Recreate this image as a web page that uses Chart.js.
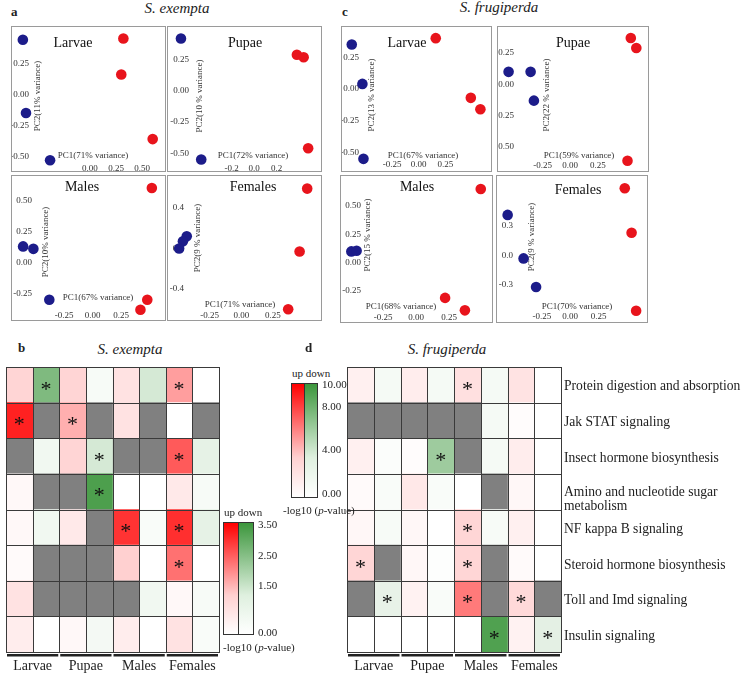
<!DOCTYPE html>
<html>
<head>
<meta charset="utf-8">
<script src="https://cdn.jsdelivr.net/npm/chart.js@4"></script>
<style>
body { margin: 0; background: #fff; }
#fig { position: relative; width: 749px; height: 678px; font-family: "Liberation Serif", "Times New Roman", serif; color: #222; }
.box { position: absolute; border: 1px solid #9a9a9a; box-sizing: border-box; }
.box canvas { position: absolute; left: 0; top: 0; }
.txt { position: absolute; white-space: nowrap; line-height: 1; }
.bar { position: absolute; border: 1px solid #333; box-sizing: border-box; }
canvas.heat { position: absolute; }
</style>
</head>
<body>
<div id="fig"></div>
<script>
// PCA sample coordinates [PC1, PC2], blue = control, red = treated
const exLarvaeBlue = [[-0.64, 0.44], [-0.61, -0.15], [-0.38, -0.53]];
const exLarvaeRed = [[0.32, 0.45], [0.30, 0.16], [0.60, -0.36]];
const exPupaeBlue = [[-0.65, 0.42], [-0.47, -0.55]];
const exPupaeRed = [[0.38, 0.29], [0.44, 0.27], [0.48, -0.46]];
const exMalesBlue = [[-0.61, 0.13], [-0.52, 0.11], [-0.38, -0.30]];
const exMalesRed = [[0.52, 0.60], [0.48, -0.30], [0.42, -0.38]];
const exFemalesBlue = [[-0.43, 0.12], [-0.46, 0.07], [-0.49, 0.00]];
const exFemalesRed = [[0.52, 0.59], [0.46, -0.03], [0.37, -0.60]];

const frLarvaeBlue = [[-0.63, 0.35], [-0.53, 0.04], [-0.52, -0.55]];
const frLarvaeRed = [[0.16, 0.40], [0.49, -0.07], [0.58, -0.16]];
const frPupaeBlue = [[-0.56, 0.10], [-0.36, 0.10], [-0.33, -0.13]];
const frPupaeRed = [[0.55, 0.37], [0.60, 0.29], [0.52, -0.61]];
const frMalesBlue = [[-0.49, 0.10], [-0.45, 0.105]];
const frMalesRed = [[0.49, 0.65], [0.22, -0.31], [0.37, -0.42]];
const frFemalesBlue = [[-0.55, 0.41], [-0.41, -0.03], [-0.30, -0.32]];
const frFemalesRed = [[0.48, 0.68], [0.54, 0.23], [0.58, -0.56]];

const stages = ['Larvae', 'Pupae', 'Males', 'Females'];
const exPC1 = ['71%', '72%', '67%', '71%'];
const exPC2 = ['11%', '10 %', '10%', '9 %'];
const frPC1 = ['67%', '59%', '68%', '70%'];
const frPC2 = ['13 %', '22 %', '15 %', '9 %'];

// tick labels
const ticksPos = ['0.00', '0.25', '0.50'];
const ticksQ = ['-0.25', '0.00', '0.25'];
const ticksP2 = ['-0.2', '0.0', '0.2'];
const ticksYlow = ['0.25', '0.00', '-0.25', '-0.50'];
const ticksYhigh = ['0.50', '0.25', '0.00', '-0.25'];
const ticksY4 = ['0.4', '0.0', '-0.4'];
const ticksY3 = ['0.3', '0.0', '-0.3'];

// heatmaps: -log10(p), positive = up (red), negative = down (green), null = no data
const pathways = ['Protein digestion and absorption', 'Jak STAT signaling', 'Insect hormone biosynthesis',
  ['Amino and nucleotide sugar', 'metabolism'], 'NF kappa B signaling', 'Steroid hormone biosynthesis',
  'Toll and Imd signaling', 'Insulin signaling'];
const columns = ['Larvae 1', 'Larvae 2', 'Pupae 1', 'Pupae 2', 'Males 1', 'Males 2', 'Females 1', 'Females 2'];

const exemptaLogP = [
  [0.57, -2.3, 0.57, -0.14, 0.4, -0.75, 1.33, 0],
  [3.05, null, 1.1, null, 0.4, null, 0, null],
  [null, -0.25, 0.57, -0.75, null, null, 2.27, -0.45],
  [0.1, null, null, -3.2, 0, 0, 0.3, -0.14],
  [0.1, -0.25, 0.3, null, 2.8, -0.1, 2.85, -0.45],
  [0.07, null, null, null, 0.65, 0, 1.95, 0],
  [0.4, null, null, null, null, -0.25, 0.1, -0.14],
  [0.25, 0, 0.1, -0.2, 0.25, 0, 0.4, -0.1]
];
const exemptaStars = [[0, 1], [0, 6], [1, 0], [1, 2], [2, 3], [2, 6], [3, 3], [4, 4], [4, 6], [5, 6]];

const frugiperdaLogP = [
  [0.6, -0.5, 0.7, -0.5, 1.2, -0.5, 1.1, 0],
  [null, null, null, null, null, -0.5, 0.1, 0],
  [0.6, -0.2, 0.1, -5, null, -0.5, 0.7, 0],
  [0.2, -0.3, 0.9, -0.3, 0, null, 0.3, 0],
  [0.3, -0.4, 0.3, 0, 1.6, -0.4, 0.6, 0],
  [1.6, null, 0.3, -0.1, 1.6, null, 0.2, 0],
  [null, -1.2, 0.5, -0.3, 5.2, null, 1.5, null],
  [0, 0, 0, 0, 0, -9, 0.5, -1.4]
];
const frugiperdaStars = [[0, 4], [2, 3], [4, 4], [5, 0], [5, 4], [6, 1], [6, 4], [6, 6], [7, 5], [7, 7]];

const exemptaLegendTicks = ['3.50', '2.50', '1.50', '0.00'];
const frugiperdaLegendTicks = ['10.00', '8.00', '4.00', '0.00'];

const BLUE = '#1c1c8a';
const RED = '#e8141c';
const fig = document.getElementById('fig');

function addText(text, x, baseline, size, style, align) {
  const d = document.createElement('div');
  d.className = 'txt';
  d.textContent = text;
  d.style.fontSize = size + 'px';
  d.style.top = (baseline - 0.84 * size) + 'px';
  d.style.left = x + 'px';
  if (style) d.style.cssText += style;
  if (align === 'center') d.style.transform = 'translateX(-50%)';
  fig.appendChild(d);
  return d;
}

// draws tick labels, axis titles and panel name inside each PCA box
const pcaText = {
  id: 'pcaText',
  beforeDatasetsDraw(chart, args, o) {
    const ctx = chart.ctx, xs = chart.scales.x, ys = chart.scales.y;
    ctx.save();
    ctx.fillStyle = '#333';
    ctx.font = '9px "Liberation Serif"';
    ctx.textBaseline = 'middle';
    ctx.textAlign = 'right';
    o.yTicks.forEach(t => ctx.fillText(t, o.lab.yTickR + 1, ys.getPixelForValue(parseFloat(t))));
    ctx.textAlign = 'center';
    o.xTicks.forEach(t => ctx.fillText(t, xs.getPixelForValue(parseFloat(t)), o.lab.xTickY));
    ctx.fillText('PC1(' + o.pc1 + ' variance)', o.lab.pc1X, o.lab.pc1Y);
    ctx.save();
    ctx.translate(o.lab.pc2X, o.lab.pc2Y);
    ctx.rotate(-Math.PI / 2);
    ctx.fillText('PC2(' + o.pc2 + ' variance)', 0, 0);
    ctx.restore();
    ctx.fillStyle = '#111';
    ctx.font = '14px "Liberation Serif"';
    ctx.fillText(o.title, o.lab.tX, o.lab.tY);
    ctx.restore();
  }
};

const pcaPanels = [
  { box: [11, 26, 155, 146], x: [-0.693, 0.667], y: [-0.574, 0.5], blue: exLarvaeBlue, red: exLarvaeRed,
    xTicks: ticksPos, yTicks: ticksYlow, pc1: exPC1[0], pc2: exPC2[0], title: stages[0],
    lab: { yTickR: 16, xTickY: 142, pc2X: 26, pc2Y: 69, pc1X: 81, pc1Y: 129, tX: 61, tY: 16 } },
  { box: [167, 26, 155, 146], x: [-0.718, 0.547], y: [-0.60, 0.47], blue: exPupaeBlue, red: exPupaeRed,
    xTicks: ticksP2, yTicks: ticksYlow, pc1: exPC1[1], pc2: exPC2[1], title: stages[1],
    lab: { yTickR: 20, xTickY: 142, pc2X: 32, pc2Y: 69, pc1X: 85, pc1Y: 129, tX: 77, tY: 16 } },
  { box: [11, 175, 155, 146], x: [-0.661, 0.589], y: [-0.42, 0.654], blue: exMalesBlue, red: exMalesRed,
    xTicks: ticksQ, yTicks: ticksYhigh, pc1: exPC1[2], pc2: exPC2[2], title: stages[2],
    lab: { yTickR: 19, xTickY: 140, pc2X: 34, pc2Y: 66, pc1X: 86, pc1Y: 122, tX: 70, tY: 11 } },
  { box: [167, 175, 155, 146], x: [-0.536, 0.587], y: [-0.653, 0.662], blue: exFemalesBlue, red: exFemalesRed,
    xTicks: ticksQ, yTicks: ticksY4, pc1: exPC1[3], pc2: exPC2[3], title: stages[3],
    lab: { yTickR: 15, xTickY: 140, pc2X: 30, pc2Y: 62, pc1X: 72, pc1Y: 129, tX: 85, tY: 11 } },
  { box: [341, 26, 151, 146], x: [-0.672, 0.63], y: [-0.604, 0.446], blue: frLarvaeBlue, red: frLarvaeRed,
    xTicks: ticksQ, yTicks: ticksYlow, pc1: frPC1[0], pc2: frPC2[0], title: stages[0],
    lab: { yTickR: 16, xTickY: 138, pc2X: 30, pc2Y: 68, pc1X: 81, pc1Y: 129, tX: 65, tY: 16 } },
  { box: [497, 26, 152, 146], x: [-0.608, 0.658], y: [-0.65, 0.416], blue: frPupaeBlue, red: frPupaeRed,
    xTicks: ticksQ, yTicks: ticksYlow, pc1: frPC1[1], pc2: frPC2[1], title: stages[1],
    lab: { yTickR: 15, xTickY: 139, pc2X: 49, pc2Y: 68, pc1X: 81, pc1Y: 129, tX: 75, tY: 16 } },
  { box: [340, 175, 153, 148], x: [-0.528, 0.535], y: [-0.476, 0.718], blue: frMalesBlue, red: frMalesRed,
    xTicks: ticksQ, yTicks: ticksYhigh, pc1: frPC1[2], pc2: frPC2[2], title: stages[2],
    lab: { yTickR: 19, xTickY: 142, pc2X: 27, pc2Y: 59, pc1X: 60, pc1Y: 131, tX: 76, tY: 11 } },
  { box: [496, 175, 152, 148], x: [-0.597, 0.629], y: [-0.62, 0.75], blue: frFemalesBlue, red: frFemalesRed,
    xTicks: ticksQ, yTicks: ticksY3, pc1: frPC1[3], pc2: frPC2[3], title: stages[3],
    lab: { yTickR: 15, xTickY: 141, pc2X: 35, pc2Y: 61, pc1X: 80, pc1Y: 131, tX: 81, tY: 14 } }
];

function toPoints(arr) {
  return arr.map(p => ({ x: p[0], y: p[1] }));
}

pcaPanels.forEach(p => {
  const [bx, by, bw, bh] = p.box;
  const div = document.createElement('div');
  div.className = 'box';
  Object.assign(div.style, { left: bx + 'px', top: by + 'px', width: bw + 'px', height: bh + 'px' });
  const cv = document.createElement('canvas');
  cv.width = bw - 2;
  cv.height = bh - 2;
  div.appendChild(cv);
  fig.appendChild(div);

  new Chart(cv, {
    type: 'scatter',
    data: {
      datasets: [
        { data: toPoints(p.blue), backgroundColor: BLUE, borderWidth: 0, pointRadius: 5.3, clip: false },
        { data: toPoints(p.red), backgroundColor: RED, borderWidth: 0, pointRadius: 5.3, clip: false }
      ]
    },
    options: {
      responsive: false,
      animation: false,
      layout: { padding: 0 },
      plugins: {
        legend: { display: false },
        tooltip: { enabled: false },
        pcaText: { xTicks: p.xTicks, yTicks: p.yTicks, pc1: p.pc1, pc2: p.pc2, title: p.title, lab: p.lab }
      },
      scales: {
        x: { type: 'linear', display: false, min: p.x[0], max: p.x[1] },
        y: { type: 'linear', display: false, min: p.y[0], max: p.y[1] }
      }
    },
    plugins: [pcaText]
  });
});

function cellColor(v, max) {
  if (v === null) return '#808080';
  const t = Math.min(Math.abs(v) / max, 1);
  if (v >= 0) {
    const g = Math.round(255 * (1 - t));
    return `rgb(255,${g},${g})`;
  }
  return `rgb(${Math.round(255 - 195 * t)},${Math.round(255 - 105 * t)},${Math.round(255 - 195 * t)})`;
}

// grid lines, asterisks, group underlines and row names
const heatDeco = {
  id: 'heatDeco',
  afterDatasetsDraw(chart, args, o) {
    const ctx = chart.ctx, xs = chart.scales.x, ys = chart.scales.y, a = chart.chartArea;
    const rowH = (a.bottom - a.top) / pathways.length;
    ctx.save();
    ctx.strokeStyle = '#3a3a3a';
    ctx.lineWidth = 1;
    ctx.beginPath();
    for (let c = 0; c <= columns.length; c++) {
      const x = Math.round(xs.getPixelForValue(c)) + 0.5;
      ctx.moveTo(x, a.top);
      ctx.lineTo(x, a.bottom);
    }
    for (let r = 0; r <= pathways.length; r++) {
      const y = Math.round(ys.getPixelForValue(r) - rowH / 2) + 0.5;
      ctx.moveTo(a.left, y);
      ctx.lineTo(a.right + 1, y);
    }
    ctx.stroke();

    ctx.fillStyle = '#111';
    ctx.font = '22px "Liberation Serif"';
    ctx.textAlign = 'center';
    ctx.textBaseline = 'middle';
    o.stars.forEach(([r, c]) => {
      ctx.fillText('*', xs.getPixelForValue(c + 0.5), ys.getPixelForValue(r) + 5);
    });

    ctx.font = '14px "Liberation Serif"';
    stages.forEach((s, g) => {
      const x0 = xs.getPixelForValue(2 * g), x1 = xs.getPixelForValue(2 * g + 2);
      ctx.fillStyle = '#222';
      ctx.fillRect(x0 + 1, a.bottom + 2, x1 - x0 - 2, 2.5);
      ctx.fillText(s, (x0 + x1) / 2, a.bottom + 14);
    });

    if (o.rowNames) {
      ctx.textAlign = 'left';
      ctx.font = '13.6px "Liberation Serif"';
      pathways.forEach((p, i) => {
        const y = ys.getPixelForValue(i);
        if (Array.isArray(p)) {
          ctx.fillText(p[0], a.right + 3, y + 1);
          ctx.fillText(p[1], a.right + 3, y + 15);
        } else {
          ctx.fillText(p, a.right + 3, y + 2);
        }
      });
    }
    ctx.restore();
  }
};

function heatmap(left, top, width, height, pad, values, stars, max, rowNames) {
  const cv = document.createElement('canvas');
  cv.className = 'heat';
  cv.width = width;
  cv.height = height;
  cv.style.left = left + 'px';
  cv.style.top = top + 'px';
  fig.appendChild(cv);
  const datasets = columns.map((col, c) => ({
    label: col,
    data: pathways.map(() => [c, c + 1]),
    backgroundColor: pathways.map((p, r) => cellColor(values[r][c], max)),
    borderWidth: 0,
    grouped: false,
    categoryPercentage: 1,
    barPercentage: 1
  }));
  new Chart(cv, {
    type: 'bar',
    data: { labels: pathways, datasets },
    options: {
      indexAxis: 'y',
      responsive: false,
      animation: false,
      layout: { padding: pad },
      plugins: { legend: { display: false }, tooltip: { enabled: false }, heatDeco: { stars, rowNames } },
      scales: {
        x: { type: 'linear', display: false, min: 0, max: columns.length },
        y: { type: 'category', display: false }
      }
    },
    plugins: [heatDeco]
  });
}

heatmap(0, 360, 225, 318, { left: 6, top: 7, right: 6, bottom: 26 }, exemptaLogP, exemptaStars, 3.5, false);
heatmap(340, 360, 409, 318, { left: 7, top: 7, right: 188, bottom: 26 }, frugiperdaLogP, frugiperdaStars, 10, true);

function colorLegend(left, top, barW, barH, ticks, max, tickLeft, y0, span, capLeft) {
  addText('up down', left + 1, top - 6, 11);
  const r = document.createElement('div');
  r.className = 'bar';
  Object.assign(r.style, { left: left + 'px', top: top + 'px', width: barW + 'px', height: barH + 'px',
    background: 'linear-gradient(to top, #fff 0%, #ffd0d0 35%, #ff0000 100%)' });
  fig.appendChild(r);
  const g = document.createElement('div');
  g.className = 'bar';
  Object.assign(g.style, { left: (left + barW - 1) + 'px', top: top + 'px', width: barW + 'px', height: barH + 'px',
    background: 'linear-gradient(to top, #fff 0%, #dff0df 35%, #3c963c 100%)' });
  fig.appendChild(g);
  ticks.forEach(t => {
    const y = y0 - parseFloat(t) / max * span;
    addText(t, tickLeft, y + 4, 11);
  });
  const lab = addText('', capLeft, top + barH + 16, 11);
  lab.innerHTML = '-log10 (<i>p</i>-value)';
}

colorLegend(223, 522, 16, 113, exemptaLegendTicks, 3.5, 258, 632, 108, 223);
colorLegend(291, 383, 14, 115, frugiperdaLegendTicks, 10, 322, 493, 109, 283);

addText('a', 11, 16, 13, 'font-weight:bold;');
addText('S. exempta', 177, 14, 15, 'font-style:italic;', 'center');
addText('c', 342, 16, 13, 'font-weight:bold;');
addText('S. frugiperda', 499, 13, 15, 'font-style:italic;', 'center');
addText('b', 18, 352, 13, 'font-weight:bold;');
addText('S. exempta', 130, 355, 15, 'font-style:italic;', 'center');
addText('d', 305, 352, 13, 'font-weight:bold;');
addText('S. frugiperda', 447, 355, 15, 'font-style:italic;', 'center');
</script>
</body>
</html>
